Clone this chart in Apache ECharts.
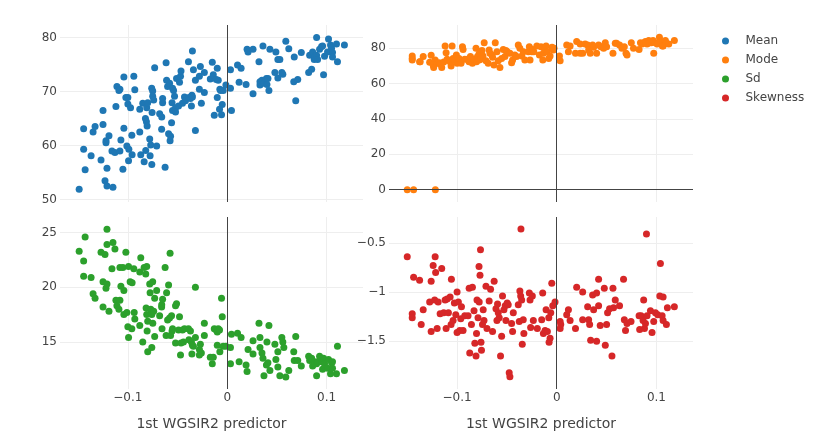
<!DOCTYPE html>
<html><head><meta charset="utf-8">
<script src="https://cdn.jsdelivr.net/npm/echarts@6/dist/echarts.min.js"></script>
<style>html,body{margin:0;padding:0;background:#fff}#c{width:820px;height:432px}</style>
</head><body><div id="c"></div><script>
const seriesNames = ['Mean', 'Mode', 'Sd', 'Skewness'];
const seriesColors = ['#1f77b4', '#ff7f0e', '#2ca02c', '#d62728'];
const xTitle = '1st WGSIR2 predictor';
const xTicks = [-0.1, 0, 0.1];
const xRange = [-0.1683, 0.1367];
const meanTicks = [50, 60, 70, 80];
const meanRange = [49.55, 82.3];
const modeTicks = [0, 20, 40, 60, 80];
const modeRange = [-7.0, 93.2];
const sdTicks = [15, 20, 25];
const sdRange = [10.7, 26.42];
const skewTicks = [-1.5, -1, -0.5];
const skewRange = [-1.985, -0.237];

const meanPoints = [[-0.149,51.9],[-0.1445,63.1],[-0.1445,59.3],[-0.143,55.5],[-0.137,58.1],[-0.135,62.5],[-0.133,63.5],[-0.127,57.3],[-0.125,66.5],[-0.125,63.9],[-0.123,53.5],[-0.122,60.9],[-0.121,52.5],[-0.121,55.8],[-0.119,61.8],[-0.122,60.5],[-0.116,59.0],[-0.115,52.3],[-0.113,58.7],[-0.112,67.2],[-0.111,70.9],[-0.109,70.2],[-0.108,70.4],[-0.108,59.0],[-0.107,61.0],[-0.105,55.6],[-0.104,63.2],[-0.104,72.7],[-0.102,68.9],[-0.101,59.9],[-0.100,68.9],[-0.100,67.7],[-0.0993,57.2],[-0.099,59.3],[-0.0973,67.0],[-0.096,61.9],[-0.0957,58.3],[-0.094,72.8],[-0.093,70.3],[-0.088,62.5],[-0.088,66.7],[-0.087,58.3],[-0.085,67.8],[-0.0836,57.0],[-0.082,59.1],[-0.0823,65.0],[-0.0813,64.4],[-0.0806,63.6],[-0.081,67.0],[-0.080,67.9],[-0.078,61.2],[-0.0776,58.1],[-0.077,60.1],[-0.0759,56.5],[-0.076,70.6],[-0.075,70.1],[-0.075,69.1],[-0.074,68.4],[-0.073,74.4],[-0.0756,66.1],[-0.071,59.9],[-0.068,65.9],[-0.066,63.0],[-0.0659,65.3],[-0.065,67.9],[-0.065,68.7],[-0.0625,56.0],[-0.0615,75.3],[-0.061,72.1],[-0.06,70.9],[-0.059,62.2],[-0.058,71.5],[-0.0575,60.9],[-0.057,61.7],[-0.056,64.2],[-0.0555,67.9],[-0.055,66.5],[-0.055,70.6],[-0.054,70.2],[-0.053,69.1],[-0.052,67.0],[-0.052,66.2],[-0.051,72.4],[-0.049,67.3],[-0.048,71.7],[-0.047,72.8],[-0.0465,73.8],[-0.045,67.8],[-0.043,69.0],[-0.042,68.3],[-0.039,75.5],[-0.0385,68.9],[-0.037,68.7],[-0.036,67.3],[-0.0355,69.3],[-0.035,77.5],[-0.035,69.0],[-0.034,74.0],[-0.032,72.1],[-0.032,62.8],[-0.028,70.4],[-0.028,72.8],[-0.027,74.6],[-0.026,67.8],[-0.023,69.8],[-0.023,73.5],[-0.017,72.3],[-0.015,75.4],[-0.014,73.1],[-0.013,65.6],[-0.011,72.2],[-0.010,68.9],[-0.010,74.3],[-0.009,72.1],[-0.0077,66.7],[-0.0074,70.4],[-0.0067,70.2],[-0.0057,65.7],[-0.005,67.6],[-0.004,70.2],[-0.0013,71.2],[0.0033,74.0],[0.0033,70.6],[0.0043,66.5],[0.0104,74.9],[0.012,71.7],[0.014,74.3],[0.019,71.3],[0.020,77.8],[0.021,77.3],[0.026,77.8],[0.026,69.6],[0.032,75.5],[0.033,71.8],[0.033,71.2],[0.035,72.1],[0.036,78.4],[0.037,71.5],[0.0395,72.4],[0.040,71.3],[0.041,72.4],[0.042,70.2],[0.043,77.8],[0.048,73.5],[0.049,77.3],[0.051,72.5],[0.051,75.9],[0.053,75.9],[0.055,73.5],[0.056,73.2],[0.059,79.3],[0.062,77.9],[0.067,71.8],[0.0675,76.4],[0.069,68.3],[0.071,72.2],[0.0746,77.2],[0.082,73.5],[0.083,76.7],[0.085,74.1],[0.086,77.3],[0.0876,75.9],[0.088,76.3],[0.090,80.0],[0.090,76.7],[0.091,75.9],[0.093,77.8],[0.095,78.3],[0.096,78.4],[0.097,73.1],[0.098,76.5],[0.101,77.3],[0.102,79.7],[0.104,78.6],[0.105,78.0],[0.106,77.2],[0.106,76.4],[0.110,78.8],[0.111,75.5],[0.118,78.6]];

const modePoints = [[-0.150,0],[-0.1436,0],[-0.1218,0],[-0.145,75.6],[-0.145,74.3],[-0.145,73.4],[-0.1376,72.4],[-0.137,72.4],[-0.134,75.3],[-0.1275,72.1],[-0.126,76.1],[-0.124,70.5],[-0.1235,69.2],[-0.122,73.4],[-0.120,71.5],[-0.118,71.9],[-0.117,71.1],[-0.1154,69.2],[-0.1134,72.2],[-0.112,81.3],[-0.111,77.5],[-0.110,73.8],[-0.107,72.4],[-0.106,70.0],[-0.105,81.3],[-0.104,74.3],[-0.102,73.0],[-0.1007,76.2],[-0.100,71.5],[-0.098,74.3],[-0.096,71.5],[-0.0946,80.9],[-0.094,79.4],[-0.0923,73.8],[-0.0896,73.8],[-0.088,72.4],[-0.0866,75.3],[-0.0846,71.5],[-0.083,73.8],[-0.081,80.0],[-0.0805,72.4],[-0.0795,75.3],[-0.078,76.8],[-0.0778,73.4],[-0.077,78.1],[-0.0765,73.8],[-0.075,78.7],[-0.074,75.6],[-0.0728,83.2],[-0.071,73.0],[-0.0688,71.5],[-0.0678,79.1],[-0.067,77.2],[-0.065,76.2],[-0.0644,74.9],[-0.063,70.5],[-0.0617,83.2],[-0.060,78.1],[-0.0587,73.0],[-0.057,69.2],[-0.0553,74.3],[-0.0537,79.4],[-0.052,75.3],[-0.051,78.7],[-0.0497,78.1],[-0.047,77.2],[-0.0453,71.9],[-0.0443,73.4],[-0.042,76.2],[-0.0403,75.3],[-0.0386,81.9],[-0.037,80.0],[-0.035,75.6],[-0.0336,78.1],[-0.032,73.4],[-0.0285,78.1],[-0.0275,80.9],[-0.0268,73.4],[-0.025,78.1],[-0.024,79.4],[-0.023,78.1],[-0.020,81.3],[-0.0174,76.2],[-0.0158,80.9],[-0.014,73.4],[-0.0134,77.2],[-0.012,79.4],[-0.0107,81.3],[-0.0094,78.1],[-0.008,74.3],[-0.0067,75.6],[-0.0047,80.6],[-0.0034,79.1],[-0.0027,80.0],[0.0027,75.6],[0.0034,73.0],[0.010,81.9],[0.0117,78.1],[0.0134,81.3],[0.0188,77.2],[0.020,83.8],[0.0235,82.5],[0.0235,77.2],[0.026,77.2],[0.0285,82.5],[0.031,81.9],[0.032,79.1],[0.0336,77.2],[0.036,81.9],[0.037,80.6],[0.040,77.2],[0.042,81.9],[0.0443,80.9],[0.047,80.0],[0.0487,83.2],[0.050,80.9],[0.0564,77.2],[0.0587,82.8],[0.060,82.8],[0.063,81.9],[0.0654,80.0],[0.0678,80.9],[0.0695,77.2],[0.0705,76.2],[0.0748,83.2],[0.077,80.0],[0.0826,79.4],[0.084,83.2],[0.0856,82.5],[0.0872,83.2],[0.089,83.8],[0.0906,82.5],[0.0923,84.4],[0.0933,83.2],[0.095,83.2],[0.0966,84.4],[0.0973,77.2],[0.099,83.2],[0.1007,82.5],[0.103,86.2],[0.1047,83.8],[0.106,81.3],[0.1067,81.3],[0.109,84.4],[0.110,82.8],[0.1124,82.5],[0.118,84.4]];

const sdPoints = [[-0.149,23.3],[-0.1445,22.4],[-0.143,24.6],[-0.1445,21.0],[-0.137,20.9],[-0.135,19.4],[-0.133,19.0],[-0.127,23.2],[-0.125,20.5],[-0.125,18.2],[-0.123,23.0],[-0.122,19.9],[-0.121,25.3],[-0.121,20.3],[-0.121,23.9],[-0.119,17.8],[-0.116,21.7],[-0.115,24.1],[-0.113,23.5],[-0.112,18.8],[-0.111,18.3],[-0.109,18.0],[-0.108,18.8],[-0.108,21.8],[-0.107,20.1],[-0.105,21.8],[-0.104,19.7],[-0.104,17.5],[-0.102,23.2],[-0.101,17.7],[-0.100,16.4],[-0.0993,15.4],[-0.0993,21.9],[-0.0977,20.5],[-0.096,16.2],[-0.0957,20.4],[-0.094,21.7],[-0.0936,17.7],[-0.093,17.1],[-0.088,21.4],[-0.088,16.5],[-0.087,22.7],[-0.085,15.0],[-0.0836,21.8],[-0.082,21.2],[-0.081,21.9],[-0.0816,18.1],[-0.081,17.5],[-0.0806,16.0],[-0.080,14.1],[-0.080,16.9],[-0.078,20.3],[-0.0776,19.5],[-0.077,18.0],[-0.0759,17.5],[-0.0759,14.5],[-0.075,20.5],[-0.0749,16.7],[-0.074,17.8],[-0.073,19.0],[-0.073,15.5],[-0.071,19.7],[-0.068,17.4],[-0.066,18.2],[-0.0659,18.4],[-0.0656,16.2],[-0.065,18.9],[-0.0625,21.8],[-0.0615,15.6],[-0.061,19.5],[-0.060,17.0],[-0.059,20.2],[-0.058,17.2],[-0.0575,23.1],[-0.057,15.6],[-0.056,17.4],[-0.0555,16.0],[-0.055,16.2],[-0.052,18.3],[-0.051,18.5],[-0.052,14.9],[-0.049,16.1],[-0.048,17.3],[-0.047,13.8],[-0.0465,14.9],[-0.045,16.1],[-0.044,15.0],[-0.043,16.2],[-0.039,16.2],[-0.0385,15.2],[-0.037,16.0],[-0.036,15.0],[-0.0355,13.9],[-0.035,14.7],[-0.034,14.6],[-0.032,20.0],[-0.032,15.4],[-0.028,14.3],[-0.028,13.8],[-0.027,14.8],[-0.026,14.0],[-0.023,16.7],[-0.023,15.6],[-0.017,13.6],[-0.015,13.0],[-0.014,13.6],[-0.013,16.2],[-0.011,16.1],[-0.010,14.7],[-0.010,15.9],[-0.009,16.2],[-0.0077,16.1],[-0.0074,14.1],[-0.0057,19.0],[-0.005,17.3],[-0.004,14.6],[-0.0013,14.6],[0.0033,14.5],[0.0033,13.0],[0.0043,15.7],[0.0104,15.8],[0.012,13.2],[0.014,15.4],[0.019,12.9],[0.020,12.3],[0.021,14.3],[0.026,13.9],[0.026,15.1],[0.032,16.7],[0.033,15.4],[0.033,14.5],[0.035,14.0],[0.036,13.5],[0.037,11.9],[0.0395,12.9],[0.040,15.0],[0.041,13.1],[0.042,16.5],[0.043,12.4],[0.048,14.8],[0.049,13.4],[0.051,14.1],[0.051,12.7],[0.053,11.9],[0.055,15.4],[0.056,15.0],[0.057,14.5],[0.059,11.8],[0.062,12.4],[0.067,14.1],[0.0675,13.3],[0.069,15.5],[0.071,13.3],[0.0746,12.8],[0.082,13.7],[0.083,13.3],[0.085,13.5],[0.086,12.8],[0.0876,13.2],[0.088,13.0],[0.090,11.9],[0.090,13.0],[0.091,13.2],[0.093,13.7],[0.095,13.2],[0.096,12.5],[0.097,13.5],[0.098,13.0],[0.101,12.6],[0.102,13.4],[0.104,12.1],[0.105,13.1],[0.106,13.2],[0.106,12.6],[0.110,12.1],[0.111,14.6],[0.118,12.4]];

const skewPoints = [[-0.150,-0.64],[-0.145,-1.22],[-0.145,-1.26],[-0.1436,-0.85],[-0.1376,-0.88],[-0.136,-1.33],[-0.134,-1.18],[-0.1275,-1.10],[-0.126,-0.89],[-0.126,-1.40],[-0.124,-0.73],[-0.1225,-1.08],[-0.122,-0.64],[-0.1215,-0.80],[-0.120,-1.37],[-0.119,-1.10],[-0.117,-1.22],[-0.1154,-0.76],[-0.1134,-1.21],[-0.112,-1.08],[-0.111,-1.37],[-0.110,-1.07],[-0.1087,-1.21],[-0.107,-1.05],[-0.106,-1.33],[-0.1057,-0.87],[-0.104,-1.29],[-0.1027,-1.11],[-0.1013,-1.23],[-0.100,-1.00],[-0.100,-1.41],[-0.0987,-1.10],[-0.0973,-1.39],[-0.0963,-1.27],[-0.0956,-1.15],[-0.094,-1.39],[-0.0923,-1.24],[-0.089,-1.24],[-0.0879,-0.96],[-0.0873,-1.62],[-0.0856,-1.33],[-0.0846,-0.95],[-0.083,-1.19],[-0.0822,-1.52],[-0.081,-1.65],[-0.0805,-1.42],[-0.080,-1.08],[-0.079,-1.26],[-0.078,-0.74],[-0.0778,-1.10],[-0.077,-0.83],[-0.0765,-0.57],[-0.076,-1.51],[-0.0755,-1.59],[-0.0745,-1.33],[-0.0738,-1.18],[-0.073,-1.29],[-0.071,-0.94],[-0.070,-1.37],[-0.0678,-1.09],[-0.0664,-0.97],[-0.0644,-1.40],[-0.0628,-0.89],[-0.061,-1.17],[-0.060,-1.29],[-0.0594,-1.12],[-0.0587,-1.21],[-0.0577,-1.26],[-0.0564,-1.65],[-0.0553,-1.45],[-0.0544,-1.04],[-0.053,-1.18],[-0.0517,-1.14],[-0.051,-1.29],[-0.0497,-1.11],[-0.0487,-1.13],[-0.0477,-1.82],[-0.047,-1.86],[-0.0453,-1.32],[-0.0443,-1.40],[-0.0436,-1.21],[-0.0386,-1.13],[-0.0376,-1.30],[-0.037,-0.99],[-0.0362,-1.04],[-0.0359,-0.36],[-0.0352,-1.08],[-0.0346,-1.53],[-0.0336,-1.28],[-0.033,-1.42],[-0.0275,-1.01],[-0.0268,-1.08],[-0.0262,-1.36],[-0.0245,-1.04],[-0.0235,-1.29],[-0.0195,-1.37],[-0.0151,-1.28],[-0.0141,-1.01],[-0.0134,-1.42],[-0.0117,-1.39],[-0.0107,-1.18],[-0.0094,-1.40],[-0.008,-1.26],[-0.0077,-1.51],[-0.0067,-1.47],[-0.006,-1.21],[-0.005,-0.91],[-0.004,-1.14],[-0.0017,-1.10],[0.0034,-1.30],[0.0034,-1.37],[0.004,-1.33],[0.010,-1.23],[0.0117,-1.18],[0.0134,-1.29],[0.0188,-1.37],[0.020,-0.95],[0.026,-1.00],[0.026,-1.28],[0.031,-1.15],[0.032,-1.28],[0.033,-1.33],[0.034,-1.49],[0.036,-1.03],[0.037,-1.18],[0.040,-1.50],[0.040,-1.01],[0.042,-0.87],[0.042,-1.14],[0.0436,-1.34],[0.0477,-0.96],[0.0487,-1.54],[0.050,-1.33],[0.051,-1.21],[0.053,-1.17],[0.0554,-1.65],[0.0564,-0.96],[0.057,-1.16],[0.0587,-1.08],[0.063,-1.14],[0.067,-0.87],[0.0678,-1.28],[0.069,-1.39],[0.0705,-1.32],[0.0745,-1.30],[0.0826,-1.24],[0.0832,-1.38],[0.0846,-1.24],[0.0866,-1.29],[0.0872,-1.08],[0.088,-1.37],[0.089,-1.32],[0.090,-0.41],[0.0906,-1.24],[0.094,-1.19],[0.0956,-1.41],[0.0973,-1.30],[0.099,-1.21],[0.1013,-1.23],[0.1034,-1.04],[0.104,-0.71],[0.1057,-1.24],[0.1067,-1.05],[0.1067,-1.29],[0.110,-1.33],[0.111,-1.16],[0.118,-1.15]];

const panelData = [meanPoints, modePoints, sdPoints, skewPoints];
const panelTicks = [meanTicks, modeTicks, sdTicks, skewTicks];
const panelRanges = [meanRange, modeRange, sdRange, skewRange];

const FONT = '"DejaVu Sans", Verdana, sans-serif';
const fmt = v => String(+Number(v).toFixed(6)).replace('-', '\u2212');

const grids = [
  {left: 60, top: 25, width: 303, height: 177},
  {left: 389, top: 25, width: 304, height: 177},
  {left: 60, top: 217, width: 303, height: 176},
  {left: 389, top: 217, width: 304, height: 176}
];

const xAxes = grids.map((g, i) => ({
  type: 'value', gridIndex: i, min: xRange[0], max: xRange[1],
  axisLine: {show: false}, axisTick: {show: false, customValues: xTicks},
  splitLine: {show: true, lineStyle: {color: '#eeeeee', width: 1}},
  axisLabel: {show: i >= 2, customValues: xTicks, formatter: fmt, color: '#444', fontSize: 12, fontFamily: FONT, margin: 3},
  name: i >= 2 ? xTitle : '', nameLocation: 'middle', nameGap: 28,
  nameTextStyle: {color: '#444', fontSize: 14, fontFamily: FONT}
}));

const yAxes = grids.map((g, i) => ({
  type: 'value', gridIndex: i, min: panelRanges[i][0], max: panelRanges[i][1],
  axisLine: {show: false}, axisTick: {show: false, customValues: panelTicks[i]},
  splitLine: {show: true, lineStyle: {color: '#eeeeee', width: 1}},
  axisLabel: {customValues: panelTicks[i], formatter: fmt, color: '#444', fontSize: 12, fontFamily: FONT, margin: 3}
}));

const series = seriesNames.map((name, i) => {
  const ml = [{xAxis: 0}];
  if (panelRanges[i][0] < 0 && panelRanges[i][1] > 0) ml.push({yAxis: 0});
  return {
    name, type: 'scatter', xAxisIndex: i, yAxisIndex: i,
    data: panelData[i], symbolSize: 7,
    itemStyle: {color: seriesColors[i], opacity: 1},
    markLine: {silent: true, symbol: ['none', 'none'], label: {show: false},
      lineStyle: {color: '#444', width: 1, type: 'solid'}, data: ml, animation: false},
    z: 3
  };
});

const chart = echarts.init(document.getElementById('c'), null, {renderer: 'canvas'});
chart.setOption({
  animation: false,
  backgroundColor: '#fff',
  color: seriesColors,
  textStyle: {fontFamily: FONT},
  grid: grids,
  xAxis: xAxes,
  yAxis: yAxes,
  legend: {
    orient: 'vertical', left: 717, top: 29, icon: 'circle',
    itemWidth: 30, itemHeight: 7, itemGap: 5,
    textStyle: {color: '#444', fontSize: 12, fontFamily: FONT, lineHeight: 14},
    data: seriesNames
  },
  series
});
</script></body></html>
